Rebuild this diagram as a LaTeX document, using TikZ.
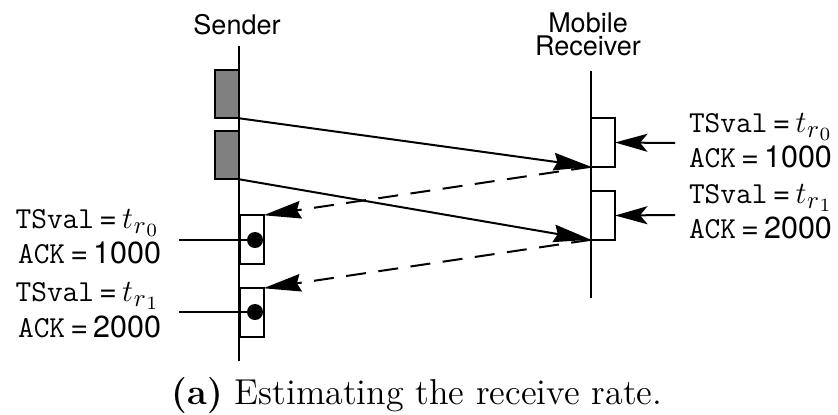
\RequirePackage{fix-cm}
\documentclass[tikz,border=0pt]{standalone}
\usepackage{fontspec}
\newfontfamily\helv{TeX Gyre Heros}
\usetikzlibrary{arrows.meta}
% monospaced field names and the timestamp symbol t_{r_i}
\newcommand\fieldTS{{\ttfamily TSval}}
\newcommand\fieldACK{{\ttfamily ACK}}
\newcommand\eqsign{\,=\,}
\newcommand\tstamp[1]{{\fontsize{12.4}{15}\selectfont$t$}\kern0.3pt\raisebox{-2.3pt}{\fontsize{10}{12}\selectfont$r$\kern0.2pt\raisebox{-1pt}{\fontsize{7.5}{9}\selectfont$#1$}}}
\begin{document}
\begin{tikzpicture}[x=0.4pt,y=-0.4pt,
  line width=0.8pt,
  lane/.style={line width=0.8pt},
  pkt/.style={draw,rectangle,inner sep=0pt,outer sep=0pt,minimum width=9.6pt,minimum height=19.4pt,line width=0.8pt},
  datapkt/.style={pkt,fill=black!50},
  tip/.style={-{Stealth[length=15pt,width=7pt,inset=1.5pt]}},
  stamp/.style={-{Stealth[length=13pt,width=7.2pt,inset=3pt]}},
  ackline/.style={tip,dash pattern=on 8pt off 5pt},
  dot/.style={circle,fill=black,inner sep=0pt,minimum size=6.4pt},
  hdr/.style={font=\helv\fontsize{10.8}{9.2}\selectfont,align=center,inner sep=0pt},
  lbl/.style={inner sep=0pt,font=\helv\fontsize{12.2}{14}\selectfont}]
\useasboundingbox (0,0) rectangle (838,414);

% headers
\node[hdr] (sname) at (237,25) {Sender};
\node[hdr] (rname) at (588,34) {Mobile\\Receiver};

% time lines
\coordinate (s0) at (239,46);  \coordinate (s1) at (239,361);
\coordinate (r0) at (591,71);  \coordinate (r1) at (591,298);
\draw[lane] (s0) -- (s1);
\draw[lane] (r0) -- (r1);

% data packets at the sender
\node[datapkt] (d1) at (227,94) {};
\node[datapkt] (d2) at (227,155) {};
% packets at the receiver
\node[pkt] (rp1) at (603,142.5) {};
\node[pkt] (rp2) at (603,215.5) {};
% acks at the sender
\node[pkt] (a1) at (251.5,239.5) {};
\node[pkt] (a2) at (251.5,312.5) {};

% data flights
\draw[tip] (d1.south east) -- (rp1.south west);
\draw[tip] (d2.south east) -- (rp2.south west);
% ack flights
\draw[ackline] (rp1.south west) -- (a1.north east);
\draw[ackline] (rp2.south west) -- (a2.north east);

% timestamps echoed at the sender
\node[dot] (k1) at (255,240) {};
\node[dot] (k2) at (255,312) {};
\coordinate (h1) at (179,240);
\coordinate (h2) at (179,312);
\draw (h1) -- (k1.center);
\draw (h2) -- (k2.center);

% labels on the sender side
\node[lbl,anchor=base east] (l1) at (158,228) {\fieldTS\eqsign\tstamp{0}};
\node[lbl,anchor=base east] (l2) at (162,263) {\fieldACK\eqsign 1000};
\node[lbl,anchor=base east] (l3) at (158,301) {\fieldTS\eqsign\tstamp{1}};
\node[lbl,anchor=base east] (l4) at (162,337) {\fieldACK\eqsign 2000};

% stamps at the receiver
\coordinate (e1) at (675,143);
\coordinate (e2) at (675,215);
\draw[stamp] (e1) -- (rp1.east);
\draw[stamp] (e2) -- (rp2.east);
\node[lbl,anchor=base west] (m1) at (688,132) {\fieldTS\eqsign\tstamp{0}};
\node[lbl,anchor=base west] (m2) at (688,167) {\fieldACK\eqsign 1000};
\node[lbl,anchor=base west] (m3) at (688,203) {\fieldTS\eqsign\tstamp{1}};
\node[lbl,anchor=base west] (m4) at (688,238) {\fieldACK\eqsign 2000};

% caption
\node[inner sep=0pt,anchor=base,font=\fontsize{14.4}{17}\selectfont] (cap) at (417,404) {\textbf{(a)} Estimating the receive rate.};
\end{tikzpicture}
\end{document}
